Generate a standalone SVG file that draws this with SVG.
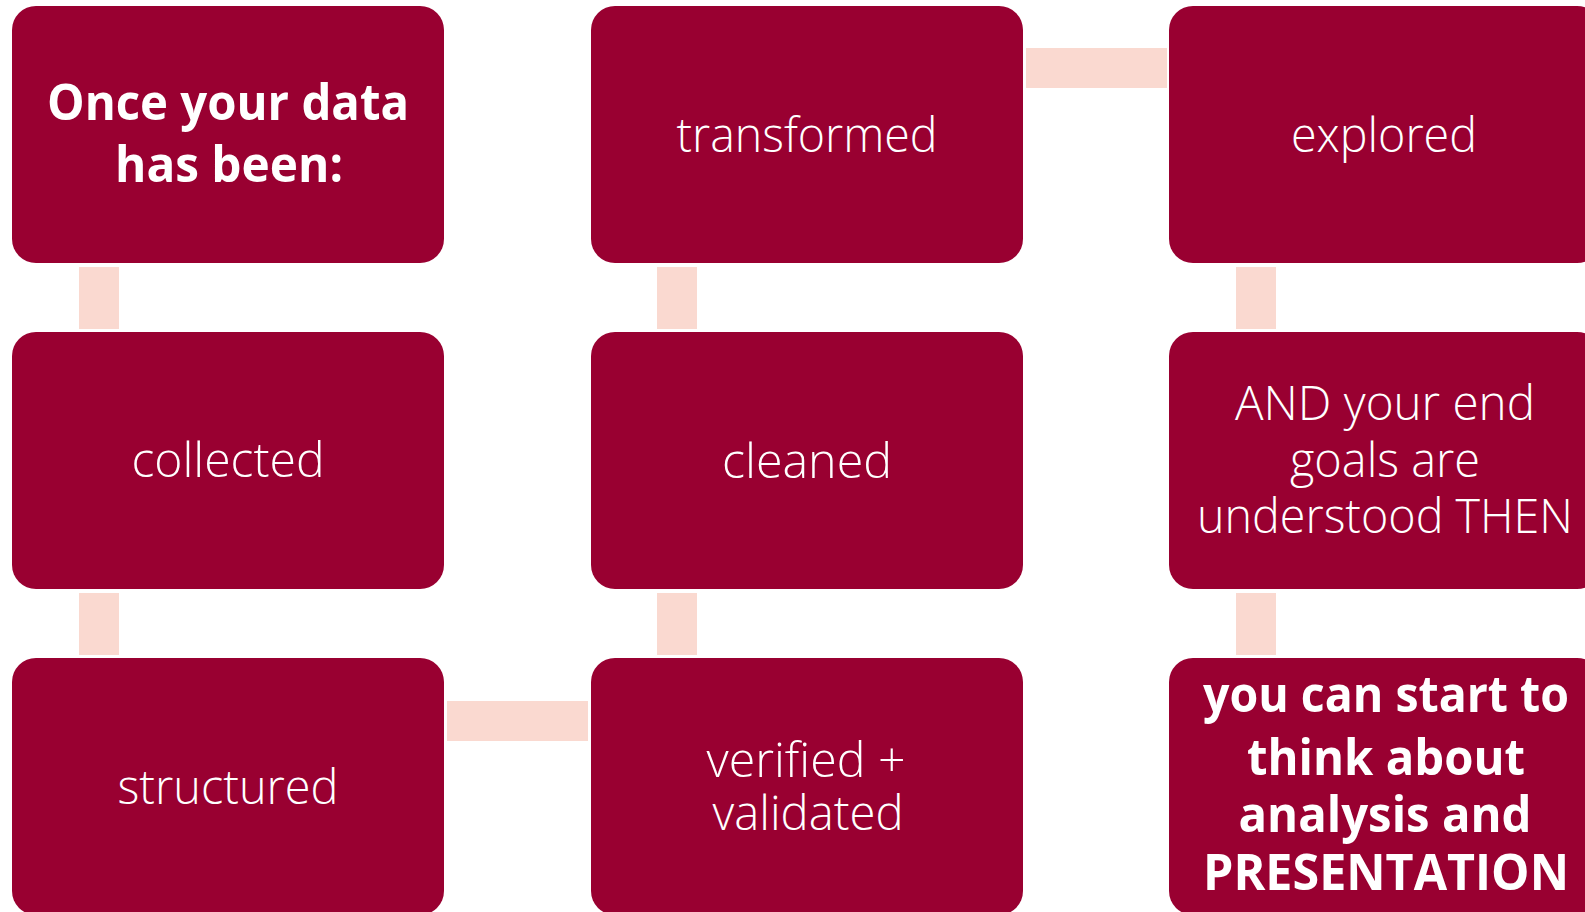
<svg xmlns="http://www.w3.org/2000/svg" width="1585" height="912" viewBox="0 0 1585 912">
<style>
.box{fill:#990031}
.con{fill:#FAD9D0}
.lt{font-family:"Open Sans","Lato","Noto Sans",sans-serif;font-weight:300;font-size:48px;fill:#ffffff;text-anchor:middle}
.bd{font-family:"Open Sans","Noto Sans","Liberation Sans",sans-serif;font-weight:700;font-size:50px;fill:#ffffff;text-anchor:middle}
</style>
<rect width="1585" height="912" fill="#ffffff"/>
<g id="connectors">
<rect class="con" x="79" y="267" width="40" height="62"/>
<rect class="con" x="79" y="593" width="40" height="62"/>
<rect class="con" x="657" y="267" width="40" height="62"/>
<rect class="con" x="657" y="593" width="40" height="62"/>
<rect class="con" x="1236" y="267" width="40" height="62"/>
<rect class="con" x="1236" y="593" width="40" height="62"/>
<rect class="con" x="447" y="701" width="141" height="40"/>
<rect class="con" x="1026" y="48" width="141" height="40"/>
</g>
<g id="n1">
<rect class="box" x="12" y="6" width="432" height="257" rx="24"/>
<text class="bd" x="228" y="120" textLength="362" lengthAdjust="spacingAndGlyphs">Once your data</text>
<text class="bd" x="229" y="182" textLength="228" lengthAdjust="spacingAndGlyphs">has been:</text>
</g>
<g id="n2">
<rect class="box" x="12" y="332" width="432" height="257" rx="24"/>
<text class="lt" x="228" y="477" textLength="193" lengthAdjust="spacingAndGlyphs">collected</text>
</g>
<g id="n3">
<rect class="box" x="12" y="658" width="432" height="257" rx="24"/>
<text class="lt" x="228" y="804" textLength="221" lengthAdjust="spacingAndGlyphs">structured</text>
</g>
<g id="n4">
<rect class="box" x="591" y="6" width="432" height="257" rx="24"/>
<text class="lt" x="807" y="152" textLength="261" lengthAdjust="spacingAndGlyphs">transformed</text>
</g>
<g id="n5">
<rect class="box" x="591" y="332" width="432" height="257" rx="24"/>
<text class="lt" x="807" y="478" textLength="170" lengthAdjust="spacingAndGlyphs">cleaned</text>
</g>
<g id="n6">
<rect class="box" x="591" y="658" width="432" height="257" rx="24"/>
<text class="lt" x="806" y="777" textLength="199" lengthAdjust="spacingAndGlyphs">verified +</text>
<text class="lt" x="808" y="830" textLength="191" lengthAdjust="spacingAndGlyphs">validated</text>
</g>
<g id="n7">
<rect class="box" x="1169" y="6" width="432" height="257" rx="24"/>
<text class="lt" x="1384" y="152" textLength="186" lengthAdjust="spacingAndGlyphs">explored</text>
</g>
<g id="n8">
<rect class="box" x="1169" y="332" width="432" height="257" rx="24"/>
<text class="lt" x="1385" y="420" textLength="300" lengthAdjust="spacingAndGlyphs">AND your end</text>
<text class="lt" x="1385" y="477" textLength="190" lengthAdjust="spacingAndGlyphs">goals are</text>
<text class="lt" x="1385" y="533" textLength="376" lengthAdjust="spacingAndGlyphs">understood THEN</text>
</g>
<g id="n9">
<rect class="box" x="1169" y="658" width="432" height="257" rx="24"/>
<text class="bd" x="1386" y="712" textLength="366" lengthAdjust="spacingAndGlyphs">you can start to</text>
<text class="bd" x="1386" y="775" textLength="278" lengthAdjust="spacingAndGlyphs">think about</text>
<text class="bd" x="1385" y="832" textLength="293" lengthAdjust="spacingAndGlyphs">analysis and</text>
<text class="bd" x="1386" y="890" textLength="366" lengthAdjust="spacingAndGlyphs">PRESENTATION</text>
</g>
</svg>
